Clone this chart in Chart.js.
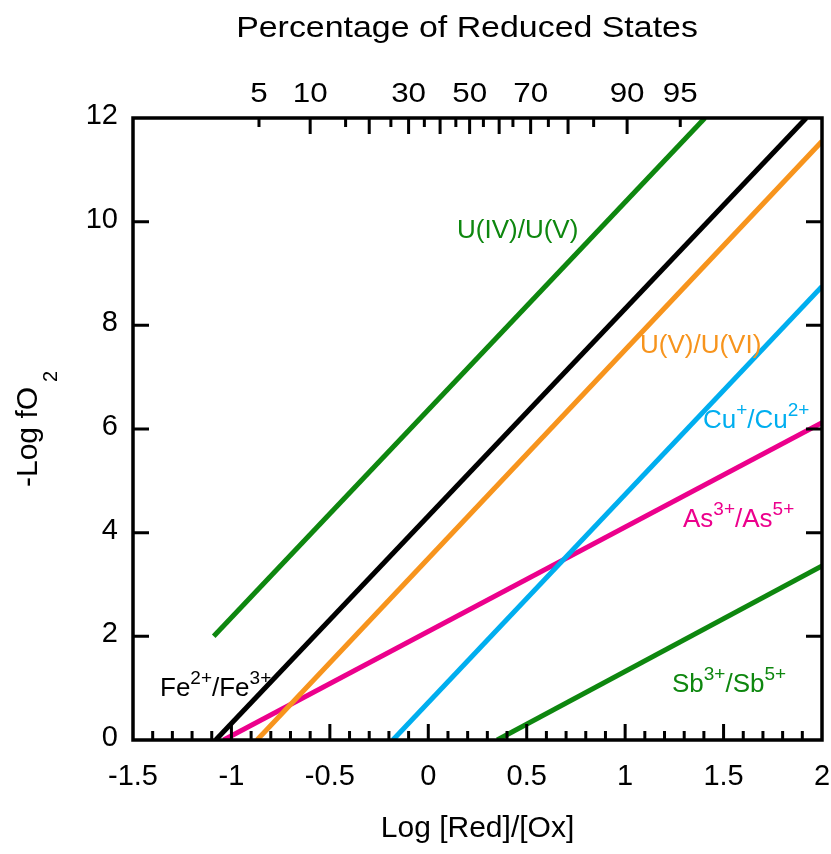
<!DOCTYPE html>
<html>
<head>
<meta charset="utf-8">
<script src="https://cdn.jsdelivr.net/npm/chart.js@4.4.1/dist/chart.umd.min.js"></script>
<style>
  html, body { margin: 0; padding: 0; background: #fff; }
  canvas { display: block; }
</style>
</head>
<body>
<canvas id="redox" width="831" height="854"></canvas>
<script>
// Datos (Log [Red]/[Ox] vs -Log fO2)
const uIVuV   = { x: [-1.09, 1.405], y: [2, 12] };
const feLine  = { x: [-1.08, 1.92],  y: [0, 12] };
const uVuVI   = { x: [-0.87, 2],     y: [0, 11.55] };
const cuLine  = { x: [-0.18, 2],     y: [0, 8.75] };
const asLine  = { x: [-1.04, 2],     y: [0, 6.12] };
const sbLine  = { x: [0.35, 2],      y: [0, 3.36] };

const xTicks = [-1.5, -1, -0.5, 0, 0.5, 1, 1.5, 2];
const yTicks = [0, 2, 4, 6, 8, 10, 12];

// eje superior: porcentaje de estados reducidos y su posición en Log [Red]/[Ox]
const pctValues = [5, 10, 15, 20, 25, 30, 35, 40, 45, 50, 55, 60, 65, 70, 75, 80, 85, 90, 95];
const pctPos    = [-0.86, -0.60, -0.42, -0.30, -0.19, -0.10, -0.02, 0.06, 0.14, 0.21, 0.28, 0.36, 0.43, 0.52, 0.61, 0.71, 0.84, 1.01, 1.28];
const pctLabels = [5, 10, 30, 50, 70, 90, 95];

const FONT = '"Liberation Sans", Arial, Helvetica, sans-serif';
const GREEN = "#0e870f";

function toPoints(s) {
  return s.x.map((x, i) => ({ x, y: s.y[i] }));
}

function lineDataset(s, color) {
  return {
    data: toPoints(s),
    showLine: true,
    borderColor: color,
    borderWidth: 5,
    pointRadius: 0,
    borderCapStyle: "butt"
  };
}

// texto con superíndices: partes [texto, esSuperindice]
function richText(ctx, parts, x, y, size, color) {
  ctx.fillStyle = color;
  ctx.textAlign = "left";
  ctx.textBaseline = "alphabetic";
  let cx = x;
  parts.forEach(([t, sup]) => {
    const fs = sup ? Math.round(size * 0.72) : size;
    ctx.font = fs + "px " + FONT;
    ctx.fillText(t, cx, sup ? y - size * 0.48 : y);
    cx += ctx.measureText(t).width;
  });
}

function stretchedText(ctx, text, cx, y, size, sx) {
  ctx.save();
  ctx.font = size + "px " + FONT;
  ctx.textAlign = "center";
  ctx.textBaseline = "alphabetic";
  ctx.translate(cx, y);
  ctx.scale(sx, 1);
  ctx.fillText(text, 0, 0);
  ctx.restore();
}

const framePlugin = {
  id: "frameAndTicks",
  afterDatasetsDraw(chart) {
    const { ctx, chartArea: a, scales: { x, y } } = chart;
    ctx.save();
    ctx.strokeStyle = "#000";
    ctx.fillStyle = "#000";

    // marco
    ctx.lineWidth = 3.5;
    ctx.strokeRect(a.left, a.top, a.right - a.left, a.bottom - a.top);

    // ticks inferiores cada 0.1
    ctx.lineWidth = 3;
    ctx.beginPath();
    for (let i = -14; i <= 19; i++) {
      const v = i / 10;
      const px = x.getPixelForValue(v);
      const len = (i % 5 === 0) ? 16 : 9;
      ctx.moveTo(px, a.bottom);
      ctx.lineTo(px, a.bottom - len);
    }
    // ticks superiores (porcentaje)
    pctValues.forEach((p, i) => {
      const px = x.getPixelForValue(pctPos[i]);
      const len = (p % 10 === 0) ? 16 : 9;
      ctx.moveTo(px, a.top);
      ctx.lineTo(px, a.top + len);
    });
    // ticks y izquierda / derecha
    yTicks.forEach(v => {
      if (v === 0 || v === 12) return;
      const py = y.getPixelForValue(v);
      ctx.moveTo(a.left, py);
      ctx.lineTo(a.left + 16, py);
      ctx.moveTo(a.right, py);
      ctx.lineTo(a.right - 16, py);
    });
    ctx.stroke();

    // etiquetas eje x
    ctx.font = "29px " + FONT;
    ctx.textAlign = "center";
    ctx.textBaseline = "alphabetic";
    xTicks.forEach(v => {
      ctx.fillText(String(v), x.getPixelForValue(v), a.bottom + 45);
    });
    // etiquetas eje y
    ctx.textAlign = "right";
    yTicks.forEach(v => {
      ctx.fillText(String(v), a.left - 15, y.getPixelForValue(v) + 6);
    });
    // etiquetas porcentaje
    pctLabels.forEach(p => {
      const i = pctValues.indexOf(p);
      stretchedText(ctx, String(p), x.getPixelForValue(pctPos[i]), a.top - 16, 28, 1.12);
    });

    // títulos
    stretchedText(ctx, "Percentage of Reduced States", 467, 37, 30, 1.13);
    ctx.font = "30px " + FONT;
    ctx.textAlign = "center";
    ctx.fillText("Log [Red]/[Ox]", (a.left + a.right) / 2, 837);

    ctx.save();
    ctx.translate(37, 487);
    ctx.rotate(-Math.PI / 2);
    ctx.textAlign = "left";
    ctx.font = "30px " + FONT;
    ctx.fillText("-Log fO", 0, 0);
    const w = ctx.measureText("-Log fO").width;
    ctx.font = "20px " + FONT;
    ctx.fillText("2", w + 5, 20);
    ctx.restore();

    // rótulos de las curvas
    richText(ctx, [["U(IV)/U(V)", false]], 457, 238, 26, GREEN);
    richText(ctx, [["U(V)/U(VI)", false]], 640, 353, 26, "#f7941d");
    richText(ctx, [["Cu", false], ["+", true], ["/Cu", false], ["2+", true]], 703, 428, 26, "#00aeef");
    richText(ctx, [["As", false], ["3+", true], ["/As", false], ["5+", true]], 683, 527, 26, "#ec008c");
    richText(ctx, [["Fe", false], ["2+", true], ["/Fe", false], ["3+", true]], 160, 696, 26, "#000");
    richText(ctx, [["Sb", false], ["3+", true], ["/Sb", false], ["5+", true]], 672, 692, 26, GREEN);

    ctx.restore();
  }
};

new Chart(document.getElementById("redox"), {
  type: "scatter",
  data: {
    datasets: [
      lineDataset(uIVuV, GREEN),
      lineDataset(feLine, "#000000"),
      lineDataset(uVuVI, "#f7941d"),
      lineDataset(cuLine, "#00aeef"),
      lineDataset(asLine, "#ec008c"),
      lineDataset(sbLine, GREEN)
    ]
  },
  options: {
    responsive: false,
    animation: false,
    layout: { padding: { left: 133, right: 9, top: 118, bottom: 114 } },
    plugins: { legend: { display: false }, tooltip: { enabled: false } },
    scales: {
      x: { type: "linear", min: -1.5, max: 2, display: false },
      y: { type: "linear", min: 0, max: 12, display: false }
    }
  },
  plugins: [framePlugin]
});
</script>
</body>
</html>
